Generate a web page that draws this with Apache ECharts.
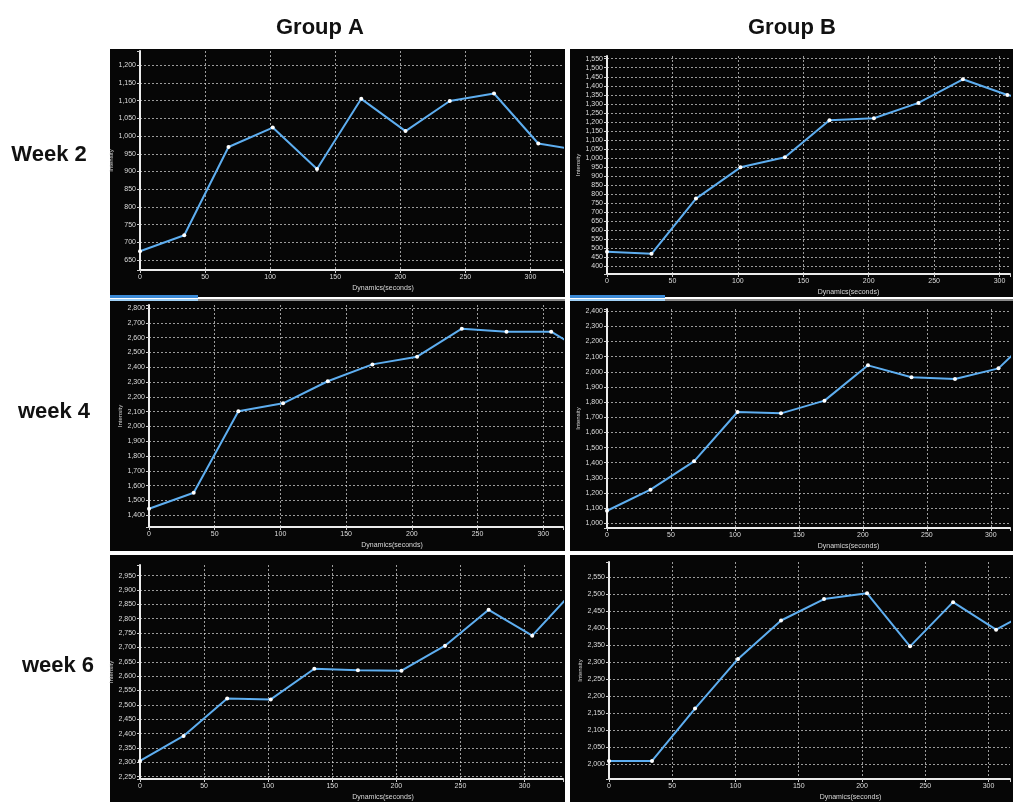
<!DOCTYPE html>
<html>
<head>
    <meta charset="utf-8" />
    <title>ECharts</title>
    <style>body { margin: 0; background: #fff; }</style>
</head>
<body>
<script src="https://cdn.jsdelivr.net/npm/echarts@6.0.0/dist/echarts.min.js"></script>
<div id="main" style="width: 1013px;height:802px;"></div>
<script type="text/javascript">
    // sampling times (seconds), same for every panel
    var seconds = [0, 34, 68, 102, 136, 170, 204, 238, 272, 306, 340];

    // intensity values
    var groupAWeek2 = [675, 720, 969, 1024, 907, 1105, 1014, 1099, 1120, 979, 958];
    var groupBWeek2 = [480, 469, 775, 948, 1004, 1209, 1220, 1305, 1436, 1349, 1300];
    var groupAWeek4 = [1444, 1552, 2102, 2156, 2305, 2419, 2471, 2660, 2640, 2640, 2460];
    var groupBWeek4 = [1083, 1222, 1409, 1735, 1726, 1810, 2043, 1964, 1953, 2023, 2300];
    var groupAWeek6 = [2305, 2392, 2522, 2519, 2626, 2621, 2619, 2706, 2831, 2741, 2905];
    var groupBWeek6 = [2010, 2010, 2164, 2310, 2423, 2486, 2503, 2347, 2477, 2396, 2465];

    var groupNames = ['Group A', 'Group B'];
    var weekNames = ['Week 2', 'week 4', 'week 6'];

    // layout of each screenshot panel
    var panels = [
        { box: [110, 49, 455, 248], grid: [140, 51, 423, 219], yMin: 622, yMax: 1240, split: 12, step: 50, xMax: 325, data: groupAWeek2 },
        { box: [570, 49, 443, 248], grid: [607, 56, 406, 218], yMin: 357, yMax: 1565, split: 24, step: 50, xMax: 308, data: groupBWeek2 },
        { box: [110, 301, 455, 250], grid: [149, 305, 414, 222], yMin: 1321, yMax: 2820, split: 15, step: 100, xMax: 315, data: groupAWeek4 },
        { box: [570, 301, 443, 250], grid: [607, 309, 406, 219], yMin: 969, yMax: 2415, split: 14, step: 100, xMax: 315, data: groupBWeek4 },
        { box: [110, 555, 455, 247], grid: [140, 565, 423, 215], yMin: 2242, yMax: 2987, split: 15, step: 50, xMax: 330, data: groupAWeek6 },
        { box: [570, 555, 443, 247], grid: [609, 562, 404, 218], yMin: 1957, yMax: 2595, split: 13, step: 50, xMax: 317, data: groupBWeek6 }
    ];

    function stepFormatter(step) {
        return function (v) {
            return v % step === 0 ? v.toLocaleString('en-US') : '';
        };
    }

    var grids = [], xAxes = [], yAxes = [], series = [];
    var graphics = [];

    panels.forEach(function (p, i) {
        graphics.push({
            type: 'rect', z: -10,
            shape: { x: p.box[0], y: p.box[1], width: p.box[2], height: p.box[3] },
            style: { fill: '#060606' }
        });
        grids.push({ left: p.grid[0], top: p.grid[1], width: p.grid[2], height: p.grid[3] });

        xAxes.push({
            gridIndex: i, type: 'value', min: 0, max: p.xMax, interval: 50,
            name: 'Dynamics(seconds)', nameLocation: 'middle', nameGap: 15,
            nameTextStyle: { color: '#d8d8d8', fontSize: 7, padding: [0, 0, 0, 2 * (243 - p.grid[2] / 2)] },
            axisLine: { show: true, lineStyle: { color: '#ececec', width: 2 } },
            axisTick: { show: true, length: 3, lineStyle: { color: '#cfcfcf' } },
            axisLabel: { color: '#dcdcdc', fontSize: 7, margin: 4, formatter: stepFormatter(50) },
            splitLine: { show: true, showMaxLine: false, lineStyle: { color: 'rgba(220,220,220,0.7)', type: [2, 2], width: 1 } }
        });

        yAxes.push({
            gridIndex: i, type: 'value', min: p.yMin, max: p.yMax, splitNumber: p.split,
            name: 'Intensity', nameLocation: 'middle', nameGap: 24,
            nameTextStyle: { color: '#d8d8d8', fontSize: 6 },
            axisLine: { show: true, lineStyle: { color: '#ececec', width: 2 } },
            axisTick: { show: true, length: 3, lineStyle: { color: '#cfcfcf' } },
            axisLabel: { color: '#dcdcdc', fontSize: 7, margin: 4, formatter: stepFormatter(p.step) },
            splitLine: { show: true, showMinLine: false, showMaxLine: false, lineStyle: { color: 'rgba(220,220,220,0.7)', type: [2, 2], width: 1 } }
        });

        series.push({
            type: 'line', xAxisIndex: i, yAxisIndex: i,
            data: seconds.map(function (t, k) { return [t, p.data[k]]; }),
            symbol: 'circle', symbolSize: 4,
            itemStyle: { color: '#ffffff' },
            lineStyle: { color: '#5eaef0', width: 2 },
            clip: true
        });
    });

    // tab strips visible in the screenshots
    graphics.push({ type: 'rect', z: -5, shape: { x: 110, y: 295, width: 88, height: 3 }, style: { fill: '#3b8ad6' } });
    graphics.push({ type: 'rect', z: -5, shape: { x: 570, y: 295, width: 95, height: 3 }, style: { fill: '#3b8ad6' } });
    graphics.push({ type: 'rect', z: -5, shape: { x: 110, y: 299, width: 455, height: 2 }, style: { fill: '#8a8a8a' } });
    graphics.push({ type: 'rect', z: -5, shape: { x: 110, y: 299, width: 88, height: 2 }, style: { fill: '#9fd0f5' } });
    graphics.push({ type: 'rect', z: -5, shape: { x: 570, y: 299, width: 443, height: 2 }, style: { fill: '#8a8a8a' } });
    graphics.push({ type: 'rect', z: -5, shape: { x: 570, y: 299, width: 95, height: 2 }, style: { fill: '#9fd0f5' } });

    // column and row headings
    var headX = [320, 792];
    groupNames.forEach(function (g, i) {
        graphics.push({
            type: 'text', x: headX[i], y: 28,
            style: { text: g, font: 'bold 22px "Liberation Sans", Arial, sans-serif', fill: '#111', align: 'center', verticalAlign: 'middle' }
        });
    });
    var rowY = [155, 412, 666];
    var rowX = [49, 54, 58];
    weekNames.forEach(function (w, i) {
        graphics.push({
            type: 'text', x: rowX[i], y: rowY[i],
            style: { text: w, font: 'bold 22px "Liberation Sans", Arial, sans-serif', fill: '#111', align: 'center', verticalAlign: 'middle' }
        });
    });

    var myChart = echarts.init(document.getElementById('main'));
    myChart.setOption({
        animation: false,
        backgroundColor: '#ffffff',
        graphic: graphics,
        grid: grids,
        xAxis: xAxes,
        yAxis: yAxes,
        series: series
    });
</script>
</body>
</html>
